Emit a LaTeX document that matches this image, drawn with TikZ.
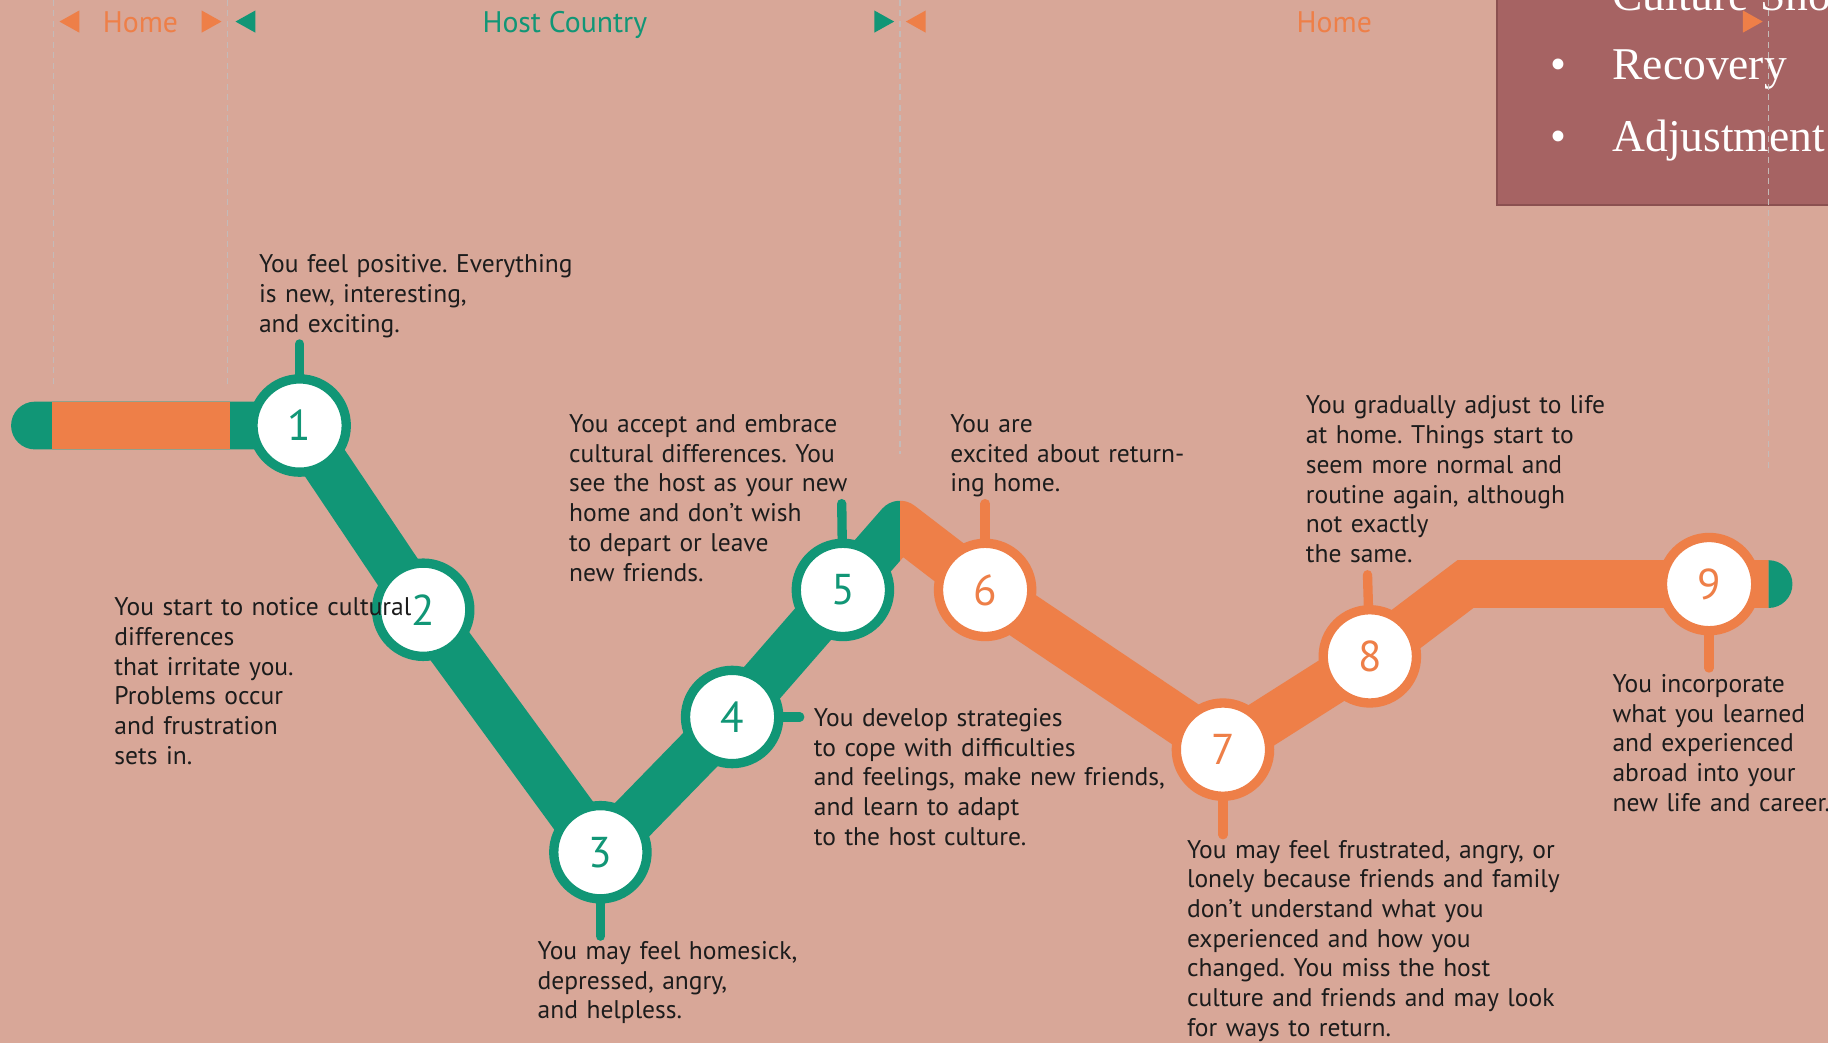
\documentclass[tikz,border=0pt]{standalone}
\usepackage{fontspec}
\setmainfont{PT Sans}
\newfontfamily\boxserif{Liberation Serif}
\definecolor{bgc}{RGB}{216,167,152}
\definecolor{grn}{RGB}{17,150,118}
\definecolor{org}{RGB}{238,127,72}
\definecolor{boxc}{RGB}{166,99,99}
\definecolor{boxedge}{RGB}{139,80,80}
\definecolor{txt}{RGB}{28,28,28}
\definecolor{dash}{RGB}{196,186,184}
\begin{document}
\frenchspacing
\begin{tikzpicture}[x=1pt,y=-1pt,
  band/.style={line width=41pt},
  stem/.style={line width=8pt, line cap=round},
  num/.style={circle, minimum size=80pt, inner sep=0pt, line width=8pt, fill=white, font=\fontsize{37}{37}\selectfont},
  gnum/.style={num, draw=grn, text=grn},
  onum/.style={num, draw=org, text=org},
  desc/.style={anchor=base west, inner sep=0pt, text width=450pt, align=left, font=\fontsize{21.9}{25.5}\selectfont\frenchspacing, text=txt},
  toplabel/.style={anchor=base, inner sep=0pt, font=\fontsize{25.5}{25.5}\selectfont},
  boxtext/.style={anchor=base west, inner sep=0pt, text=white, font=\boxserif\fontsize{39}{39}\selectfont},
  guide/.style={draw=dash, line width=1pt, dash pattern=on 5pt off 4pt}
]
\useasboundingbox (0,0) rectangle (1568,895);
\clip (0,0) rectangle (1568,895);
\fill[bgc] (0,0) rectangle (1568,895);

% summary box
\draw[fill=boxc, draw=boxedge, line width=2pt] (1284,-10) rectangle (1580,176);
\node[boxtext] (bt0) at (1383,9) {Culture Shock};
\node[boxtext, anchor=base] (bb1) at (1337,68) {•};
\node[boxtext] (bt1) at (1383,68) {Recovery};
\node[boxtext, anchor=base] (bb2) at (1337,130) {•};
\node[boxtext] (bt2) at (1383,130) {Adjustment};

% guide lines
\coordinate (g1a) at (46,0);   \coordinate (g1b) at (46,329);
\coordinate (g2a) at (195,0);  \coordinate (g2b) at (195,329);
\coordinate (g3a) at (772,0);  \coordinate (g3b) at (772,389);
\coordinate (g4a) at (1517,0); \coordinate (g4b) at (1517,405);
\draw[guide] (g1a) -- (g1b);
\draw[guide] (g2a) -- (g2b);
\draw[guide] (g3a) -- (g3b);
\draw[guide] (g4a) -- (g4b);

% top markers
\fill[org] (51,18.5) -- (68,9) -- (68,28) -- cycle;
\fill[org] (190,18.5) -- (173,9) -- (173,28) -- cycle;
\node[toplabel, text=org] (home1) at (120.5,27.7) {Home};
\fill[grn] (202,18.5) -- (219,9) -- (219,28) -- cycle;
\fill[grn] (767,18.5) -- (750,9) -- (750,28) -- cycle;
\node[toplabel, text=grn] (host) at (484.5,27.7) {Host Country};
\fill[org] (777,18.5) -- (794,9) -- (794,28) -- cycle;
\fill[org] (1512,18.5) -- (1495,9) -- (1495,28) -- cycle;
\node[toplabel, text=org] (home2) at (1144.5,27.7) {Home};

% path coordinates
\coordinate (L) at (30,365);
\coordinate (c1) at (257,365);
\coordinate (c2) at (363,523);
\coordinate (c3) at (515,731);
\coordinate (c4) at (628,615);
\coordinate (c5) at (723,506);
\coordinate (A) at (772,450);
\coordinate (c6) at (845,506);
\coordinate (c7) at (1049,643);
\coordinate (c8) at (1175,563);
\coordinate (B) at (1257,501);
\coordinate (c9) at (1466,501);
\coordinate (E) at (1517,501);

% green part of band
\begin{scope}
\clip (0,300) rectangle (772,800);
\draw[band, draw=grn, line cap=round, line join=round] (L) -- (c1) -- (c2) -- (c3) -- (c4) -- (c5) -- (A) -- (c6);
\end{scope}
\fill[org] (45,344.5) rectangle (197,385.5);
% orange part of band
\begin{scope}
\clip (772,300) rectangle (1568,800);
\draw[band, draw=org, line join=round] (c5) -- (A) -- (c6);
\end{scope}
\draw[band, draw=org, line join=miter] (c6) -- (c7) -- (c8) -- (B) -- (E);
\begin{scope}
\clip (1517,470) rectangle (1560,530);
\fill[grn] (E) circle[radius=20.5];
\end{scope}

% circles
\node[gnum] (n1) at (c1) {1};
\node[gnum] (n2) at (c2) {2};
\node[gnum] (n3) at (c3) {3};
\node[gnum] (n4) at (c4) {4};
\node[gnum] (n5) at (c5) {5};
\node[onum] (n6) at (c6) {6};
\node[onum] (n7) at (c7) {7};
\node[onum] (n8) at (c8) {8};
\node[onum] (n9) at (c9) {9};

% stems
\coordinate (s1) at (257,295);
\coordinate (s3) at (515,803);
\coordinate (s4) at (686,615);
\coordinate (s5) at (722,432);
\coordinate (s6) at (845,432);
\coordinate (s7) at (1049,716);
\coordinate (s8) at (1173,493);
\coordinate (s9) at (1466,573);
\draw[stem, grn] (n1) -- (s1);
\draw[stem, grn] (n3) -- (s3);
\draw[stem, grn] (n4) -- (s4);
\draw[stem, grn] (n5) -- (s5);
\draw[stem, org] (n6) -- (s6);
\draw[stem, org] (n7) -- (s7);
\draw[stem, org] (n8) -- (s8);
\draw[stem, org] (n9) -- (s9);

% descriptions
\node[desc] (t1) at (222,234) {You feel positive. Everything\\is new, interesting,\\and exciting.};
\node[desc] (t2) at (98,528) {You start to notice cultural\\differences\\that irritate you.\\Problems occur\\and frustration\\sets in.};
\node[desc] (t3) at (461,823) {You may feel homesick,\\depressed, angry,\\and helpless.};
\node[desc] (t4) at (698,623) {You develop strategies\\to cope with difficulties\\and feelings, make new friends,\\and learn to adapt\\to the host culture.};
\node[desc] (t5) at (488,371) {You accept and embrace\\cultural differences. You\\see the host as your new\\home and don’t wish\\to depart or leave\\new friends.};
\node[desc] (t6) at (815,371) {You are\\excited about return-\\ing home.};
\node[desc] (t7) at (1018,736) {You may feel frustrated, angry, or\\lonely because friends and family\\don’t understand what you\\experienced and how you\\changed. You miss the host\\culture and friends and may look\\for ways to return.};
\node[desc] (t8) at (1120,355) {You gradually adjust to life\\at home. Things start to\\seem more normal and\\routine again, although\\not exactly\\the same.};
\node[desc] (t9) at (1383,594) {You incorporate\\what you learned\\and experienced\\abroad into your\\new life and career.};
\end{tikzpicture}
\end{document}
